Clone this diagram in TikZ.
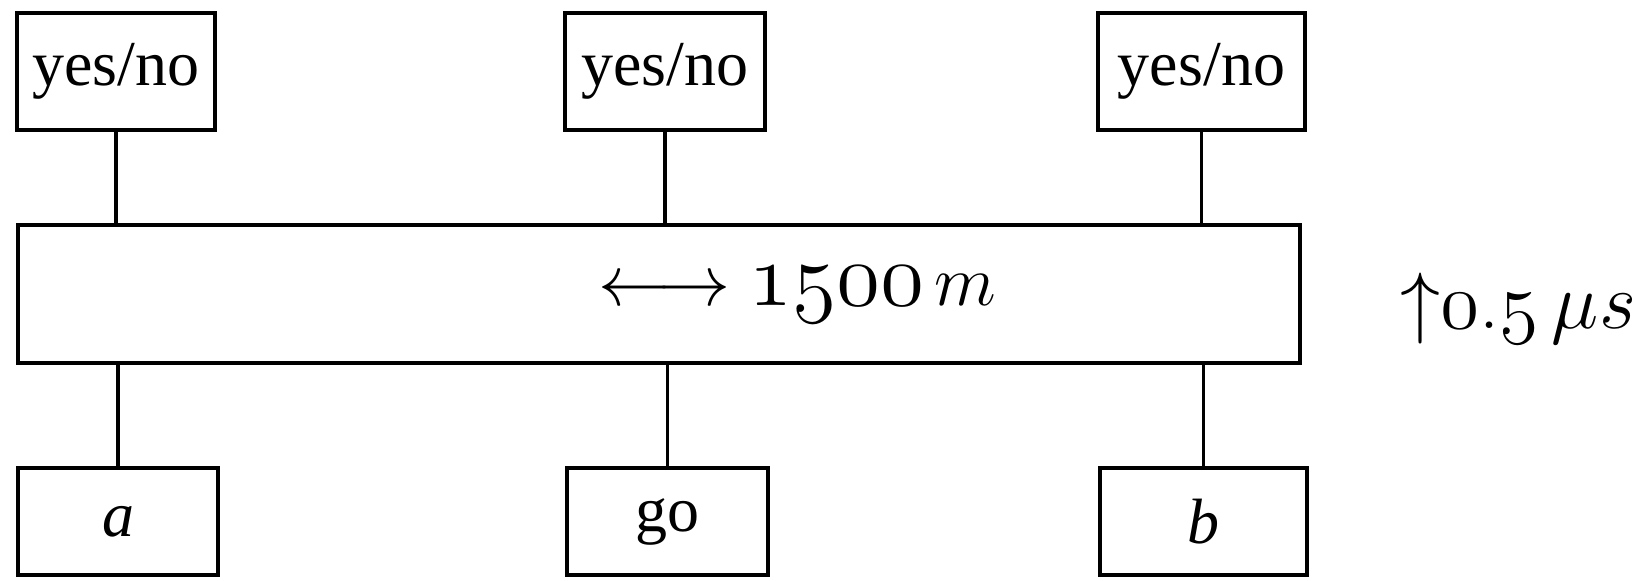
\RequirePackage{fix-cm}
\documentclass[tikz,border=0pt]{standalone}
\usepackage{fontspec}
\newfontfamily\boxfont{Liberation Serif}
\newcommand{\osn}[1]{{\usefont{OML}{cmm}{m}{it}#1}}
\newcommand{\fsz}[1]{\fontsize{#1}{#1}\selectfont}
\begin{document}
\begin{tikzpicture}[x=0.5pt,y=-0.5pt,
  box/.style={draw, line width=1.8pt, inner sep=0pt, minimum height=58.5pt,
    font=\boxfont\fontsize{32}{38}\selectfont},
  bus/.style={draw, line width=1.8pt, inner sep=0pt},
  wire/.style={line width=1.8pt},
  biglabel/.style={inner sep=0pt, anchor=base west, font=\fontsize{40}{48}\selectfont}]
\useasboundingbox (0,0) rectangle (1646,580);
% top boxes
\node[box, minimum width=99pt]    (t1) at (116,71.5)    {yes/no};
\node[box, minimum width=100pt]   (t2) at (665,71.5)    {yes/no};
\node[box, minimum width=103.5pt] (t3) at (1201.5,71.5) {yes/no};
% bus
\node[bus, minimum width=641pt, minimum height=69pt] (bus) at (659,294) {};
% bottom boxes
\node[box, minimum width=100pt, minimum height=53.5pt]   (a)  at (118,521.5)    {\textit{a}};
\node[box, minimum width=100.5pt, minimum height=53.5pt] (go) at (667.5,521.5)  {go};
\node[box, minimum width=103.5pt, minimum height=53.5pt] (b)  at (1203.5,521.5) {\textit{b}};
% wires
\draw[wire] (t1.south) -- (t1.south |- bus.north);
\draw[wire] (t2.south) -- (t2.south |- bus.north);
\draw[wire] (t3.south) -- (t3.south |- bus.north);
\draw[wire] (bus.south -| a.north) -- (a.north);
\draw[wire] (bus.south -| go.north) -- (go.north);
\draw[wire] (bus.south -| b.north) -- (b.north);
% labels
\node[biglabel] (len) at (598,305)
  {{\fsz{36}$\longleftrightarrow$}\hspace{9pt}{\fsz{45}\osn{1500}}\hspace{5pt}{\fsz{36}$m$}};
\node[biglabel] (tim) at (1400,328) {$\uparrow$\osn{0}.\osn{5}\,$\mu s$};
\end{tikzpicture}
\end{document}
